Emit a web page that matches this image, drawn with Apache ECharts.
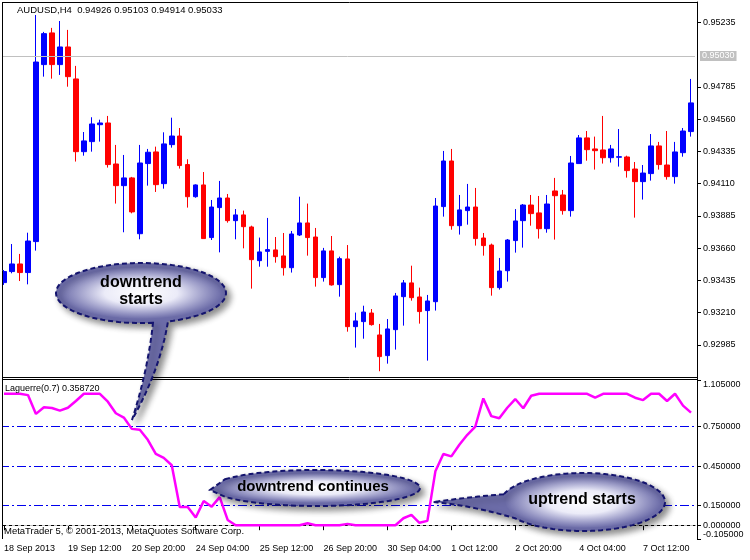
<!DOCTYPE html>
<html>
<head>
<meta charset="utf-8">
<script src="https://cdn.jsdelivr.net/npm/echarts@6/dist/echarts.min.js"></script>
<style>
html,body{margin:0;padding:0;background:#fff;}
#chart{width:750px;height:560px;}
</style>
</head>
<body>
<div id="chart"></div>
<script>
// ---- data (AUDUSD H4) ----
const barDays = ['18 Sep','19 Sep','20 Sep','23 Sep','24 Sep','25 Sep','26 Sep','27 Sep','30 Sep','1 Oct','2 Oct','3 Oct','4 Oct','7 Oct','8 Oct'];
const barHours = ['00:00','04:00','08:00','12:00','16:00','20:00'];
const xTickLabels = ['18 Sep 2013','19 Sep 12:00','20 Sep 20:00','24 Sep 04:00','25 Sep 12:00','26 Sep 20:00','30 Sep 04:00','1 Oct 12:00','2 Oct 20:00','4 Oct 04:00','7 Oct 12:00'];

const opens = [0.93420,0.93497,0.93550,0.93490,0.93706,0.94940,0.95161,0.94940,0.95063,0.94840,
0.94333,0.94403,0.94521,0.94533,0.94247,0.94096,0.94150,0.93761,0.94250,0.94331,
0.94110,0.94382,0.94442,0.94243,0.94019,0.94101,0.93734,0.93943,0.94010,0.93852,
0.93892,0.93808,0.93573,0.93638,0.93648,0.93606,0.93524,0.93752,0.93836,0.93738,
0.93455,0.93641,0.93406,0.93585,0.93113,0.93148,0.93208,0.93055,0.92911,0.93092,
0.93322,0.93418,0.93320,0.93225,0.93287,0.93950,0.94268,0.93817,0.93922,0.93947,
0.93731,0.93682,0.93385,0.93503,0.93713,0.93852,0.93961,0.93906,0.93796,0.94059,
0.94031,0.93922,0.94250,0.94429,0.94352,0.94345,0.94291,0.94294,0.94296,0.94212,
0.94124,0.94180,0.94373,0.94240,0.94159,0.94326,0.94473];
const highs = [0.93508,0.93689,0.93620,0.93768,0.95286,0.95168,0.95196,0.95244,0.95182,0.94931,
0.94470,0.94573,0.94556,0.94582,0.94380,0.94310,0.94157,0.94380,0.94352,0.94368,
0.94468,0.94570,0.94498,0.94280,0.94105,0.94191,0.93996,0.94129,0.94038,0.93933,
0.93922,0.93817,0.93734,0.93871,0.93738,0.93766,0.93780,0.94019,0.93971,0.93801,
0.93662,0.93745,0.93601,0.93682,0.93211,0.93259,0.93236,0.93132,0.93166,0.93348,
0.93438,0.93538,0.93385,0.93334,0.94010,0.94338,0.94352,0.94031,0.94108,0.94080,
0.93766,0.93692,0.93592,0.93724,0.93933,0.93968,0.94031,0.94024,0.94031,0.94150,
0.94066,0.94303,0.94449,0.94477,0.94438,0.94582,0.94380,0.94491,0.94305,0.94261,
0.94240,0.94456,0.94401,0.94477,0.94401,0.94498,0.94840];
const lows = [0.93404,0.93485,0.93431,0.93408,0.93643,0.94856,0.94842,0.94868,0.94786,0.94264,
0.94305,0.94333,0.94403,0.94222,0.93971,0.93771,0.93903,0.93722,0.94096,0.94052,
0.94075,0.94361,0.94215,0.93943,0.94012,0.93727,0.93717,0.93631,0.93838,0.93722,
0.93659,0.93378,0.93531,0.93531,0.93559,0.93469,0.93490,0.93745,0.93608,0.93392,
0.93427,0.93399,0.93322,0.93078,0.92967,0.93029,0.93120,0.92802,0.92855,0.92953,
0.93120,0.93294,0.93134,0.92876,0.93225,0.93880,0.93789,0.93755,0.93824,0.93678,
0.93608,0.93329,0.93371,0.93427,0.93629,0.93664,0.93817,0.93727,0.93768,0.93720,
0.93894,0.93880,0.94250,0.94270,0.94208,0.94250,0.94257,0.94229,0.94152,0.93873,
0.93999,0.94131,0.94208,0.94138,0.94110,0.94298,0.94438];
const closes = [0.93497,0.93550,0.93490,0.93710,0.94958,0.95156,0.94940,0.95063,0.94856,0.94333,
0.94408,0.94526,0.94533,0.94243,0.94096,0.94150,0.93913,0.94254,0.94329,0.94103,
0.94387,0.94442,0.94236,0.94019,0.94101,0.93727,0.93947,0.94010,0.93852,0.93892,
0.93810,0.93580,0.93634,0.93650,0.93601,0.93524,0.93759,0.93836,0.93734,0.93455,
0.93641,0.93404,0.93587,0.93113,0.93153,0.93215,0.93127,0.92904,0.93097,0.93327,
0.93418,0.93315,0.93218,0.93292,0.93954,0.94268,0.93817,0.93927,0.93947,0.93727,
0.93678,0.93385,0.93501,0.93717,0.93850,0.93961,0.93901,0.93796,0.93968,0.94026,
0.93922,0.94254,0.94429,0.94347,0.94340,0.94291,0.94352,0.94298,0.94201,0.94124,
0.94184,0.94373,0.94243,0.94159,0.94331,0.94477,0.94673];
const laguerre = [1.0,1.0,1.0,0.99,0.847,0.897,0.892,0.872,0.894,0.945,
1.0,1.0,1.0,0.94,0.852,0.819,0.733,0.726,0.65,0.542,
0.512,0.456,0.138,0.138,0.058,0.184,0.141,0.214,0.04,0.0,
0,0,0,0,0,0,0,0,0.015,0,
0,0,0,0.01,0,0,0,0,0,0,
0.053,0.078,0.018,0.033,0.41,0.542,0.524,0.612,0.688,0.751,
0.965,0.83,0.814,0.894,0.96,0.89,0.985,1.0,1.0,1.0,
1.0,1.0,1.0,1.0,0.97,1.0,1.0,1.0,1.0,0.97,
0.952,1.0,1.0,0.945,1.0,0.91,0.857];

const priceTicks = [0.92985,0.93210,0.93435,0.93660,0.93885,0.94110,0.94335,0.94560,0.94785,0.95235];
const priceMin = 0.927619, priceMax = 0.953765;
const bidPrice = 0.95030;
const indTicks = [1.105,0.75,0.45,0.15,0.0,-0.105];
const indMin = -0.105, indMax = 1.105;
const levels = [0.75,0.45,0.15];
const headerText = 'AUDUSD,H4  0.94926 0.95103 0.94914 0.95033';
const indText = 'Laguerre(0.7) 0.358720';
const copyText = 'MetaTrader 5, \u00A9 2001-2013, MetaQuotes Software Corp.';

// categories: first bar 18 Sep 04:00, last 8 Oct 12:00
const categories = [];
barDays.forEach(function(d, di){
  barHours.forEach(function(h, hi){
    if (di === 0 && hi === 0) return;
    if (di === barDays.length - 1 && hi > 3) return;
    categories.push(d + ' ' + h);
  });
});

const candleData = opens.map(function(o, i){ return [o, closes[i], lows[i], highs[i]]; });

const FONT = '"Liberation Sans", Arial, sans-serif';
const chart = echarts.init(document.getElementById('chart'));

// ---- callout outline helpers (annotation geometry) ----
function arcPts(cx, cy, rx, ry, a0, a1, n){
  const pts = [];
  for (let k = 0; k <= n; k++){
    const t = (a0 + (a1 - a0) * k / n) * Math.PI / 180;
    pts.push([cx + rx * Math.cos(t), cy + ry * Math.sin(t)]);
  }
  return pts;
}
function quadPts(p0, c, p1, n){
  const pts = [];
  for (let k = 1; k <= n; k++){
    const t = k / n, u = 1 - t;
    pts.push([u*u*p0[0] + 2*u*t*c[0] + t*t*p1[0], u*u*p0[1] + 2*u*t*c[1] + t*t*p1[1]]);
  }
  return pts;
}
function bubble(points, hx, hy, hr, hsx){
  return [
    { type:'polygon', z:100, shape:{ points: points },
      style:{ fill:'#6c6ca8', stroke:'#14146e', lineWidth:2, lineDash:[5,3],
              shadowColor:'rgba(0,0,0,0.45)', shadowBlur:6, shadowOffsetX:4, shadowOffsetY:4 } },
    { type:'circle', z:101, x:hx, y:hy, scaleX:hsx, scaleY:1, shape:{cx:0, cy:0, r:hr},
      style:{ fill:{ type:'radial', x:0.5, y:0.5, r:0.5, colorStops:[
        {offset:0, color:'rgba(255,255,255,1)'},
        {offset:0.45, color:'rgba(246,246,255,0.92)'},
        {offset:1, color:'rgba(235,235,255,0)'}] } } }
  ];
}
function bubbleText(txt, x, y, size){
  return { type:'text', z:102, x:x, y:y,
    style:{ text:txt, font:'bold ' + size + 'px ' + FONT, fill:'#000',
      align:'center', verticalAlign:'middle',
      textShadowColor:'rgba(235,150,0,0.9)', textShadowBlur:0, textShadowOffsetX:-1, textShadowOffsetY:-1 } };
}

const b1 = arcPts(141, 293, 85, 30, 81.9, 431.5, 90)
  .concat(quadPts([168, 321.4], [160, 370], [132, 420], 16))
  .concat(quadPts([132, 420], [148, 370], [153, 322.7], 16));
const b2 = arcPts(316, 488, 104, 18, 209, 511, 90).concat([[210, 490]]);
const b3 = arcPts(583, 502, 82, 29, 195.6, 506, 90)
  .concat(quadPts([515, 518.2], [470, 505], [433, 502], 16))
  .concat(quadPts([433, 502], [470, 497], [504, 494.2], 16));

const graphics = [].concat(
  [
    { type:'rect', z:90, shape:{x:0, y:0, width:2, height:560}, style:{fill:'#fff'} },
    { type:'line', z:91, shape:{x1:2.5, y1:2, x2:2.5, y2:539}, style:{stroke:'#000', lineWidth:1} },
    { type:'line', z:91, shape:{x1:2, y1:2.5, x2:697, y2:2.5}, style:{stroke:'#000', lineWidth:1} },
    { type:'line', z:91, shape:{x1:2, y1:377.5, x2:697, y2:377.5}, style:{stroke:'#000', lineWidth:1} },
    { type:'line', z:91, shape:{x1:2, y1:379.5, x2:697, y2:379.5}, style:{stroke:'#000', lineWidth:1} },
    { type:'line', z:91, shape:{x1:697.5, y1:2, x2:697.5, y2:539}, style:{stroke:'#000', lineWidth:1} },
    { type:'text', z:92, x:17, y:10, style:{ text:headerText, font:'9.5px ' + FONT, fill:'#000', verticalAlign:'middle' } },
    { type:'text', z:92, x:5, y:388.5, style:{ text:indText, font:'9px ' + FONT, fill:'#000', verticalAlign:'middle' } },
    { type:'text', z:92, x:4, y:531, style:{ text:copyText, font:'9.5px ' + FONT, fill:'#000', verticalAlign:'middle' } }
  ],
  bubble(b1, 141, 293, 26, 3.12),
  [ bubbleText('downtrend', 141, 283, 16), bubbleText('starts', 141, 300, 16) ],
  bubble(b2, 316, 488, 15, 6.6),
  [ bubbleText('downtrend continues', 313, 487, 15) ],
  bubble(b3, 583, 502, 26, 3.0),
  [ bubbleText('uptrend starts', 582, 500, 16) ]
);

const option = {
  animation: false,
  backgroundColor: '#ffffff',
  textStyle: { fontFamily: FONT },
  grid: [
    { left: -1, top: 2, width: 696, height: 375 },
    { left: -1, top: 380, width: 696, height: 159 }
  ],
  xAxis: [
    { type:'category', gridIndex:0, data:categories, boundaryGap:true, show:false },
    { type:'category', gridIndex:1, data:categories, boundaryGap:true,
      axisLine:{ show:true, lineStyle:{color:'#000', width:1} },
      axisTick:{ show:true, interval:7, alignWithLabel:true, length:5, lineStyle:{color:'#000'} },
      axisLabel:{ interval:7, align:'left', margin:5, color:'#000', fontSize:9, fontFamily:FONT,
        formatter:function(v, idx){ return xTickLabels[Math.round(idx/8)] || ''; } },
      splitLine:{show:false} }
  ],
  yAxis: [
    { type:'value', gridIndex:0, position:'right', offset:2, min:priceMin, max:priceMax,
      axisLine:{ show:true, lineStyle:{color:'#000'} },
      axisTick:{ show:true, length:4, customValues:priceTicks, lineStyle:{color:'#000'} },
      axisLabel:{ customValues:priceTicks, margin:6, color:'#000', fontSize:9, fontFamily:FONT,
        formatter:function(v){ return Number(v).toFixed(5); } },
      splitLine:{show:false} },
    { type:'value', gridIndex:1, position:'right', offset:2, min:indMin, max:indMax,
      axisLine:{ show:true, lineStyle:{color:'#000'} },
      axisTick:{ show:true, length:4, customValues:indTicks, lineStyle:{color:'#000'} },
      axisLabel:{ customValues:indTicks, margin:6, color:'#000', fontSize:9, fontFamily:FONT,
        verticalAlignMaxLabel:'bottom', verticalAlignMinLabel:'top',
        formatter:function(v){ return Number(v).toFixed(6); } },
      splitLine:{show:false} }
  ],
  series: [
    { type:'candlestick', xAxisIndex:0, yAxisIndex:0, data:candleData, barWidth:5,
      itemStyle:{ color:'#0000ff', color0:'#ff0000', borderColor:'#0000ff', borderColor0:'#ff0000', borderWidth:1 },
      markLine:{ silent:true, symbol:'none', animation:false,
        data:[{ yAxis: bidPrice }],
        lineStyle:{ color:'#c0c0c0', type:'solid', width:1 },
        label:{ show:true, position:'end', distance:5, formatter: bidPrice.toFixed(5),
          backgroundColor:'#c0c0c0', color:'#ffffff', padding:[1,2,0,2], fontSize:9, fontFamily:FONT } } },
    { type:'line', xAxisIndex:1, yAxisIndex:1, data:[], z:1,
      markLine:{ silent:true, symbol:'none', animation:false, label:{show:false},
        data: levels.map(function(l){ return { yAxis:l, lineStyle:{ color:'#0000ee', width:1, type:[9,3,2,3] } }; })
          .concat([{ yAxis:0, lineStyle:{ color:'#c0c0c0', width:1, type:[3,3] } }]) } },
    { type:'line', xAxisIndex:1, yAxisIndex:1, data:laguerre, z:5, symbol:'none', smooth:false,
      lineStyle:{ color:'#ff00ff', width:2.5 } }
  ],
  graphic: graphics
};
chart.setOption(option);
</script>
</body>
</html>
